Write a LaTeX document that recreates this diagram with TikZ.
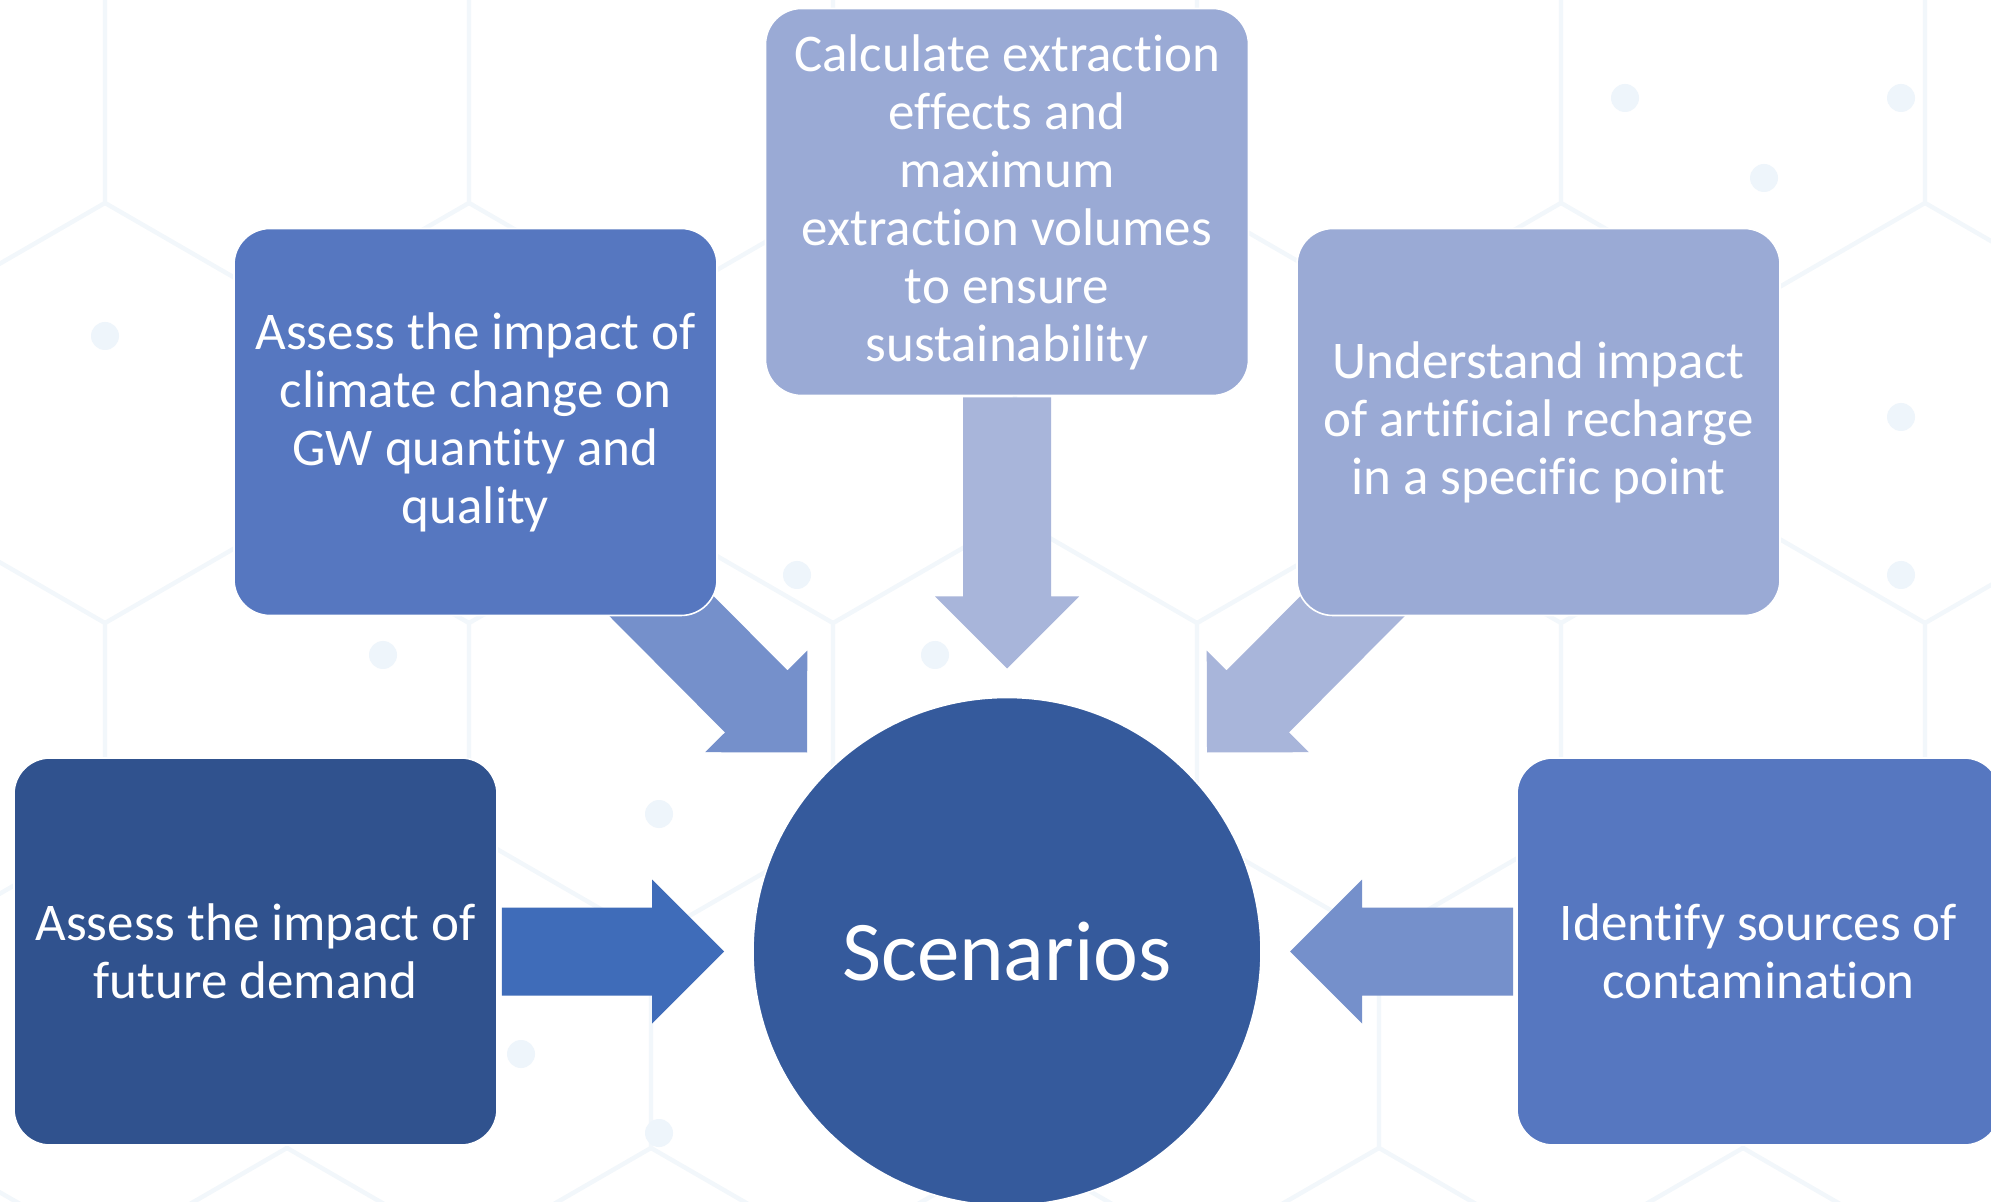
\documentclass[tikz,border=0pt]{standalone}
\usepackage{fontspec}
\setmainfont{Carlito}[Ligatures=NoCommon]
\usetikzlibrary{calc}
\definecolor{bgline}{HTML}{F2F7FB}
\definecolor{bgdot}{HTML}{EEF5FB}
\definecolor{cdark}{HTML}{30528E}
\definecolor{cmid}{HTML}{5677C0}
\definecolor{clight}{HTML}{9AAAD5}
\definecolor{ccircle}{HTML}{355A9C}
\definecolor{arrA}{HTML}{3F6CB9}
\definecolor{arrB}{HTML}{7590CB}
\definecolor{arrC}{HTML}{A8B5DA}
\pgfdeclarelayer{bg}
\pgfdeclarelayer{arrows}
\pgfsetlayers{bg,arrows,main}
% block arrow from #1 (tail) to #2 (tip), filled with #3
\newcommand\blockarrow[3]{%
  \fill[#3]
    ($(#1)!22pt!90:(#2)$) --
    ($($(#2)!36pt!(#1)$)!22pt!90:(#2)$) --
    ($($(#2)!36pt!(#1)$)!36pt!90:(#2)$) --
    (#2) --
    ($($(#2)!36pt!(#1)$)!36pt!-90:(#2)$) --
    ($($(#2)!36pt!(#1)$)!22pt!-90:(#2)$) --
    ($(#1)!22pt!-90:(#2)$) -- cycle;}
\tikzset{
  box/.style={rectangle, rounded corners=18pt, draw=white, line width=0.8pt,
    minimum width=241.5pt, minimum height=193.5pt, inner sep=0pt,
    text=white, align=center, font=\fontsize{26.5pt}{29pt}\selectfont},
  hexline/.style={draw=bgline, line width=2pt},
}
\begin{document}
\begin{tikzpicture}[x=0.5pt,y=-0.5pt]
\useasboundingbox (0,0) rectangle (1991,1202);
\clip (0,0) rectangle (1991,1202);

% white page with a faint hexagon network
\begin{pgfonlayer}{bg}
\fill[white] (0,0) rectangle (1991,1202);
\foreach \r in {0,...,4}{
  \foreach \c in {-1,...,6}{
    \pgfmathsetmacro\cx{105+364*\c+mod(\r+1,2)*182}
    \pgfmathsetmacro\cy{98+315*\r}
    \draw[hexline] (\cx,\cy) +(30:210) -- +(90:210) -- +(150:210)
      -- +(210:210) -- +(270:210) -- +(330:210) -- cycle;
  }
}
\foreach \p in {(1625,98),(1901,98),(1764,178),(1901,417),(1901,575),
  (797,575),(935,655),(659,814),(521,1054),(659,1133),(105,336),(383,655)}
  \fill[bgdot] \p ellipse (7pt and 7pt);
\end{pgfonlayer}

% boxes and the central circle
\node[box, fill=cdark] (demand) at (255.5,951.5)
  {Assess the impact of\\future demand};
\node[box, fill=cmid] (climate) at (475.5,422)
  {Assess the impact of\\climate change on\\GW quantity and\\quality};
\node[box, fill=clight] (extract) at (1007,202)
  {Calculate extraction\\effects and\\maximum\\extraction volumes\\to ensure\\sustainability};
\node[box, fill=clight] (recharge) at (1538.5,422)
  {Understand impact\\of artificial recharge\\in a specific point};
\node[box, fill=cmid] (contam) at (1758.5,951.5)
  {Identify sources of\\contamination};
\node[circle, fill=ccircle, draw=white, line width=0.8pt, minimum size=254pt,
  inner sep=0pt, text=white, font=\fontsize{42.5pt}{46pt}\selectfont]
  (scen) at (1007,951.5) {Scenarios};

% arrow ends
\coordinate (t1) at ($(demand.east)+(4,0)$);
\coordinate (h1) at ($(scen.center)+(-283,0)$);
\coordinate (t2) at ($(climate.center)+(161,159)$);
\coordinate (h2) at ($(scen.center)+(-200,-199)$);
\coordinate (t3) at ($(extract.south)+(0,1)$);
\coordinate (h3) at ($(scen.center)+(0,-283)$);
\coordinate (t4) at ($(recharge.center)+(-161,159)$);
\coordinate (h4) at ($(scen.center)+(200,-199)$);
\coordinate (t5) at ($(contam.west)+(-3,0)$);
\coordinate (h5) at ($(scen.center)+(283,0)$);

\begin{pgfonlayer}{arrows}
\blockarrow{t1}{h1}{arrA}
\blockarrow{t2}{h2}{arrB}
\blockarrow{t3}{h3}{arrC}
\blockarrow{t4}{h4}{arrC}
\blockarrow{t5}{h5}{arrB}
\end{pgfonlayer}
\end{tikzpicture}
\end{document}
